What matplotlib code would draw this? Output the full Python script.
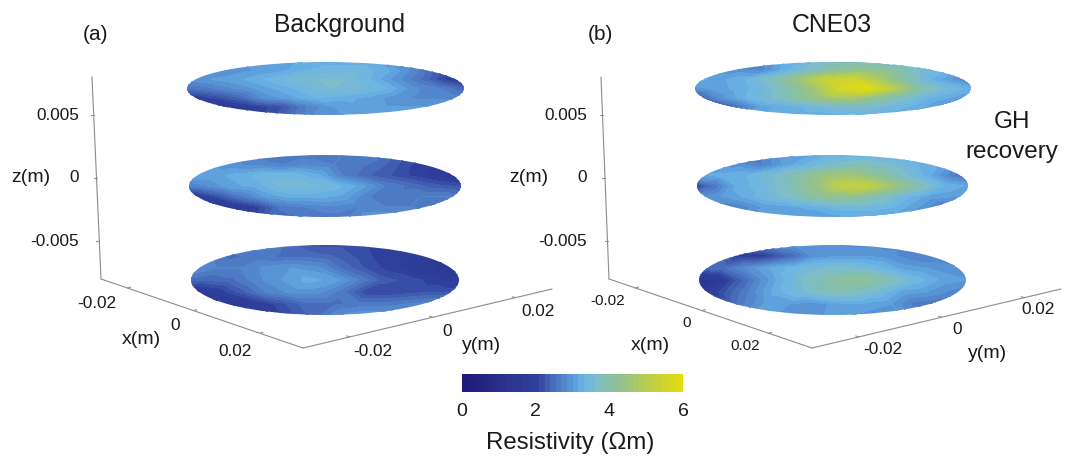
"""Resistivity slices at three heights, background vs CNE03, drawn as two 3D-looking panels."""
from __future__ import annotations

import numpy as np
import matplotlib
matplotlib.use("Agg")
import matplotlib.pyplot as plt
import matplotlib.colors as mcolors
from matplotlib.cm import ScalarMappable
from matplotlib.patches import Circle
from matplotlib.tri import Triangulation

plt.rcParams["font.family"] = ["Liberation Sans", "DejaVu Sans"]

W, H = 1072, 457

# resistivity, rows back to front, columns left to right
bg_top = [
    [3.0, 3.0, 3.0, 3.0, 3.0, 3.1, 3.2, 3.2, 3.2, 2.8, 2.2, 2.0, 2.0],
    [3.0, 2.9, 2.9, 3.0, 3.1, 3.3, 3.4, 3.4, 3.2, 2.8, 2.3, 1.9, 1.8],
    [2.8, 2.9, 3.0, 3.1, 3.3, 3.5, 3.6, 3.6, 3.3, 2.9, 2.5, 2.0, 1.7],
    [2.5, 2.6, 2.8, 3.0, 3.2, 3.4, 3.6, 3.5, 3.3, 2.9, 2.7, 2.4, 2.1],
    [1.8, 1.9, 2.1, 2.4, 2.9, 3.1, 3.3, 3.2, 3.1, 2.9, 2.8, 2.8, 2.7],
    [1.7, 1.7, 1.8, 2.0, 2.2, 2.7, 3.0, 3.1, 3.0, 3.0, 3.0, 3.0, 3.0],
    [1.8, 1.8, 1.8, 1.9, 2.1, 2.5, 2.9, 3.0, 3.1, 3.1, 3.1, 3.1, 3.1],
]
bg_mid = [
    [2.9, 2.9, 2.9, 2.8, 2.6, 2.6, 2.6, 2.7, 2.7, 2.4, 2.2, 2.1, 2.0],
    [3.0, 3.0, 2.9, 2.8, 2.7, 2.8, 2.7, 2.6, 2.4, 2.1, 1.9, 1.8, 1.7],
    [3.0, 3.1, 3.1, 3.2, 3.4, 3.4, 3.2, 2.7, 2.4, 2.2, 2.0, 1.8, 1.6],
    [2.6, 2.8, 3.1, 3.2, 3.5, 3.5, 3.4, 3.1, 2.7, 2.5, 2.3, 2.2, 2.2],
    [1.7, 1.7, 2.1, 2.6, 3.0, 3.2, 3.2, 3.1, 2.7, 2.6, 2.7, 2.7, 2.7],
    [1.6, 1.6, 1.7, 2.0, 2.6, 2.7, 2.8, 2.7, 2.7, 2.7, 2.5, 2.9, 2.9],
    [1.8, 1.8, 1.8, 1.9, 2.3, 2.5, 2.6, 2.6, 3.0, 3.0, 3.0, 3.0, 3.0],
]
bg_low = [
    [2.7, 2.7, 2.7, 2.8, 2.8, 2.4, 2.2, 2.2, 2.1, 2.0, 1.9, 1.9, 1.9],
    [3.0, 2.8, 2.5, 2.6, 2.5, 2.5, 2.4, 2.2, 2.0, 1.9, 1.7, 1.7, 1.7],
    [3.0, 2.9, 2.7, 2.7, 2.9, 3.0, 2.9, 2.5, 2.2, 2.0, 1.7, 1.6, 1.6],
    [2.5, 2.4, 2.5, 2.8, 3.0, 3.2, 3.1, 2.7, 2.3, 2.2, 2.0, 1.8, 1.9],
    [1.8, 1.7, 1.9, 2.3, 2.7, 2.9, 2.9, 2.6, 2.1, 2.1, 2.2, 2.2, 2.2],
    [1.6, 1.5, 1.6, 1.9, 2.2, 2.5, 2.5, 2.6, 2.6, 2.7, 2.8, 2.7, 2.7],
    [1.7, 1.7, 1.7, 1.8, 1.9, 2.2, 2.5, 2.9, 3.0, 3.0, 3.0, 3.0, 3.0],
]
cne_top = [
    [3.0, 3.0, 2.9, 2.6, 3.0, 3.3, 3.6, 3.7, 3.6, 3.3, 3.1, 3.0, 3.0],
    [3.0, 3.0, 2.9, 2.8, 3.3, 3.8, 4.2, 4.4, 4.1, 3.6, 3.3, 2.6, 1.7],
    [3.2, 3.2, 3.1, 3.3, 3.8, 4.5, 5.3, 5.5, 4.8, 4.0, 3.3, 2.9, 2.2],
    [2.9, 3.0, 3.2, 3.4, 3.9, 4.6, 5.6, 5.9, 5.0, 4.0, 3.5, 3.2, 3.1],
    [2.2, 2.2, 2.9, 3.3, 3.6, 4.1, 4.6, 4.7, 4.2, 3.7, 3.3, 3.1, 3.1],
    [1.7, 1.9, 2.5, 3.1, 3.2, 3.4, 3.6, 3.6, 3.4, 3.2, 2.9, 2.5, 3.0],
    [2.5, 2.5, 3.0, 3.1, 3.2, 3.2, 3.2, 3.3, 3.2, 3.1, 3.0, 2.9, 3.0],
]
cne_mid = [
    [2.9, 2.9, 2.8, 2.5, 2.9, 3.0, 3.2, 3.3, 3.3, 3.2, 3.1, 3.0, 3.0],
    [3.0, 3.0, 2.9, 2.7, 3.1, 3.4, 3.7, 3.8, 3.6, 3.3, 3.1, 2.7, 2.5],
    [2.8, 3.1, 3.2, 3.3, 3.6, 4.0, 4.5, 4.6, 4.2, 3.7, 3.2, 2.7, 1.9],
    [1.7, 2.5, 3.2, 3.4, 3.8, 4.4, 5.1, 5.2, 4.6, 3.9, 3.3, 3.1, 3.0],
    [2.0, 2.8, 3.0, 3.2, 3.5, 3.8, 4.2, 4.3, 3.9, 3.4, 3.1, 3.0, 3.0],
    [2.9, 2.8, 2.7, 3.0, 3.1, 3.2, 3.4, 3.4, 3.3, 3.0, 2.6, 2.5, 2.9],
    [3.0, 3.0, 2.9, 3.0, 3.0, 3.0, 3.0, 3.1, 3.1, 3.0, 2.9, 2.9, 3.0],
]
cne_low = [
    [3.0, 3.0, 2.6, 2.5, 2.8, 3.0, 2.9, 2.8, 2.8, 2.8, 2.9, 2.9, 2.9],
    [2.9, 2.6, 2.0, 2.0, 2.4, 2.9, 3.0, 3.0, 2.9, 2.7, 2.7, 2.7, 2.8],
    [2.3, 2.4, 2.5, 2.9, 3.2, 3.4, 3.6, 3.6, 3.4, 3.1, 3.0, 2.9, 2.9],
    [1.5, 1.6, 2.3, 2.9, 3.4, 3.8, 4.1, 4.2, 3.8, 3.4, 3.1, 3.0, 2.9],
    [1.4, 1.5, 2.2, 2.7, 3.2, 3.5, 3.8, 3.8, 3.5, 3.1, 3.0, 2.8, 2.7],
    [1.7, 1.9, 2.6, 3.0, 3.0, 2.9, 3.1, 3.1, 3.0, 2.6, 2.5, 2.7, 2.8],
    [2.6, 2.7, 2.9, 3.0, 3.0, 2.9, 3.0, 3.0, 2.9, 3.0, 3.0, 2.9, 2.9],
]

x_ticks = [-0.02, 0, 0.02]
y_ticks = [-0.02, 0, 0.02]
z_ticks = [-0.005, 0, 0.005]
cbar_ticks = [0, 2, 4, 6]

cmap_stops = [(0.0, "#1d1a7a"), (1 / 6, "#2b2f8c"), (2 / 6, "#2f409c"), (2.5 / 6, "#4a6fbd"),
              (3 / 6, "#5b9ad8"), (3.3 / 6, "#6bb4e6"), (3.7 / 6, "#7fbdc8"), (4 / 6, "#86bfaa"),
              (4.5 / 6, "#98c383"), (5 / 6, "#b5cc55"), (5.5 / 6, "#cdd430"), (1.0, "#e0dc10")]
cmap = mcolors.LinearSegmentedColormap.from_list("res", cmap_stops, N=40)
norm = mcolors.Normalize(0, 6)


def px_axes(left, right, top, bottom, **kw):
    return plt.gcf().add_axes([left / W, 1 - bottom / H, (right - left) / W, (bottom - top) / H], **kw)


def draw_disc(table, left, right, top, bottom):
    vals = np.asarray(table, dtype=float)
    nrow, ncol = vals.shape
    cols = np.linspace(-1.14, 1.14, ncol)
    rows = np.linspace(1.02, -1.02, nrow)
    xx, yy = np.meshgrid(cols, rows)
    # stagger the rows so the colour bands get jagged edges like the FE mesh
    xx[1::2] += 0.06
    xx[0::2] -= 0.06
    tri = Triangulation(xx.ravel(), yy.ravel())

    ax = px_axes(left, right, top, bottom)
    ax.set_xlim(-1, 1)
    ax.set_ylim(-1, 1)
    ax.axis("off")
    cs = ax.tricontourf(tri, vals.ravel(), levels=np.linspace(0, 6, 41), cmap=cmap, norm=norm)
    cs.set_edgecolor("face")
    cs.set_linewidth(0.2)
    cs.set_clip_path(Circle((0, 0), 1, transform=ax.transData))


def along(p0, p1, lims, v):
    f = (v - lims[0]) / (lims[1] - lims[0])
    return p0[0] + f * (p1[0] - p0[0]), p0[1] + f * (p1[1] - p0[1])


def draw_box(ax, ztop, zbot, xend, yend):
    line = dict(color="#8c8c8c", lw=0.8, solid_capstyle="round")
    ax.plot([ztop[0], zbot[0]], [ztop[1], zbot[1]], **line)
    ax.plot([zbot[0], xend[0]], [zbot[1], xend[1]], **line)
    ax.plot([xend[0], yend[0]], [xend[1], yend[1]], **line)
    for v in z_ticks:
        px, py = along(zbot, ztop, (-0.008, 0.008), v)
        ax.plot([px - 3, px], [py, py], **line)
    for v in x_ticks:
        px, py = along(zbot, xend, (-0.028, 0.033), v)
        ax.plot([px, px + 3], [py, py - 1], **line)
    for v in y_ticks:
        px, py = along(xend, yend, (-0.0313, 0.0289), v)
        ax.plot([px, px - 3], [py, py - 1], **line)


def main() -> int:
    fig = plt.figure(figsize=(W / 100, H / 100), dpi=100)
    over = fig.add_axes([0, 0, 1, 1])
    over.set_xlim(0, W)
    over.set_ylim(H, 0)
    over.axis("off")

    draw_box(over, (92, 77), (101, 279), (303, 348), (552, 289))
    draw_box(over, (601, 77), (609, 279), (812, 348), (1061, 289))

    draw_disc(bg_top, 187, 464, 62, 115)
    draw_disc(bg_mid, 189, 461, 155, 217)
    draw_disc(bg_low, 191, 459, 245, 315)
    draw_disc(cne_top, 695, 971, 62, 115)
    draw_disc(cne_mid, 697, 968, 155, 217)
    draw_disc(cne_low, 699, 966, 245, 315)

    def t(x, y, s, size=12.4, **kw):
        over.text(x, y, s, fontsize=size, ha="center", va="center", color="#1a1a1a", **kw)

    t(95, 35, "(a)", 15)
    t(600, 35, "(b)", 15)
    t(339, 25, "Background", 17.7)
    t(832, 25, "CNE03", 17.9)
    t(1012, 122, "GH", 17.5)
    t(1012, 152, "recovery", 17.5)

    # z labels, right aligned against the axis
    for right, lab_x in ((79, 31), (587, 529)):
        for py, lab in ((115, "0.005"), (178, "0"), (241, "-0.005")):
            over.text(right, py, lab, fontsize=12.4, ha="right", va="center", color="#1a1a1a")
        t(lab_x, 178, "z(m)", 14)

    t(97, 303, "-0.02")
    t(175, 326, "0")
    t(235, 351, "0.02")
    t(141, 340, "x(m)", 14)
    t(373, 352, "-0.02")
    t(447, 331, "0")
    t(538, 312, "0.02")
    t(482, 345, "y(m)", 14)

    t(608, 301, "-0.02", 11)
    t(687, 323, "0", 11)
    t(745, 346, "0.02", 11)
    t(650, 345, "x(m)", 14)
    t(883, 349, "-0.02")
    t(957, 330, "0")
    t(1038, 310, "0.02")
    t(988, 353, "y(m)", 14)

    cax = px_axes(462, 683, 374, 392)
    cb = fig.colorbar(ScalarMappable(norm=norm, cmap=cmap), cax=cax, orientation="horizontal")
    cb.set_ticks(cbar_ticks)
    cb.ax.tick_params(length=0, labelsize=14, pad=8, labelcolor="#1a1a1a")
    cb.outline.set_visible(False)
    t(570, 443, "Resistivity (Ωm)", 17.3)

    fig.savefig("out.png", dpi=100)
    plt.close(fig)
    return 0


if __name__ == "__main__":
    raise SystemExit(main())
